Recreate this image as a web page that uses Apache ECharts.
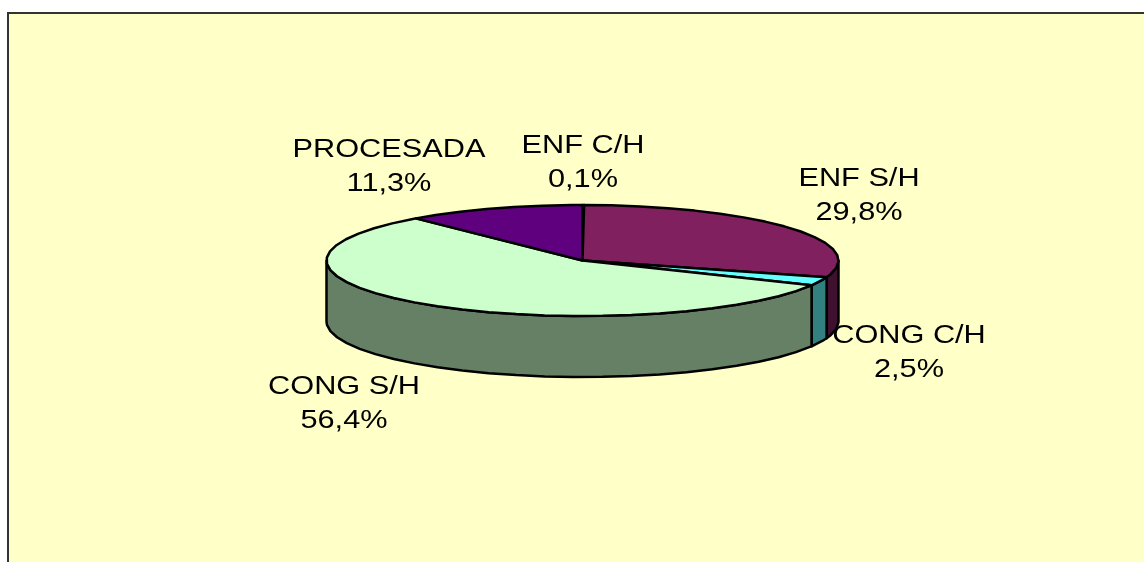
<!DOCTYPE html>
<html>
<head>
<meta charset="utf-8">
<style>
  html, body { margin: 0; padding: 0; background: #fff; }
  #chart { width: 1144px; height: 562px; }
</style>
<script src="https://cdn.jsdelivr.net/npm/echarts@6/dist/echarts.min.js"></script>
</head>
<body>
<div id="chart"></div>
<script>
// data, clockwise from 12 o'clock
const categories = ["ENF C/H", "ENF S/H", "CONG C/H", "CONG S/H", "PROCESADA"];
const values = [0.1, 29.8, 2.5, 56.4, 11.3];

// top face and side wall colours per slice
const topColors = ["#99ccff", "#80205f", "#66ffff", "#ccffcc", "#5f007f"];
const sideColors = ["#4d6680", "#401030", "#338080", "#668066", "#300040"];

// label centre per slice (layout, gap between the two lines is labelGap)
const labelCenters = [[583, 163], [859, 196], [909, 353], [344, 404], [389, 167]];
const labelGap = 34;
// the original text is drawn wider than the font
const labelScaleX = 1.28;
const labelScaleY = 1.06;

const pie = { cx: 582.5, cy: 260.5, rx: 256, ry: 55.5, depth: 61, step: 6.5 };
const total = values.reduce((a, b) => a + b, 0);

// cumulative start/end angle of every slice, degrees clockwise from the top
const angles = [];
let acc = 0;
values.forEach((v) => {
  const start = (acc / total) * 360;
  acc += v;
  angles.push([start, (acc / total) * 360]);
});

function rimPoint(deg, dy) {
  const a = (deg * Math.PI) / 180;
  return [pie.cx + pie.rx * Math.sin(a), pie.cy - pie.ry * Math.cos(a) + dy];
}

// rim is faceted like the original, so walk it in fixed steps
function rimPoints(from, to, dy) {
  const pts = [rimPoint(from, dy)];
  const first = Math.ceil(from / pie.step) * pie.step;
  for (let d = first; d < to; d += pie.step) {
    if (d > from) pts.push(rimPoint(d, dy));
  }
  pts.push(rimPoint(to, dy));
  return pts;
}

function renderSide(params) {
  const i = params.dataIndex;
  const from = Math.max(angles[i][0], 90);
  const to = Math.min(angles[i][1], 270);
  if (to <= from) return null;
  const upper = rimPoints(from, to, 0);
  const lower = rimPoints(from, to, pie.depth).reverse();
  return {
    type: "polygon",
    shape: { points: upper.concat(lower) },
    style: { fill: sideColors[i], stroke: "#000", lineWidth: 2.5, lineJoin: "round" },
  };
}

function renderTop(params) {
  const i = params.dataIndex;
  const pts = [[pie.cx, pie.cy]].concat(rimPoints(angles[i][0], angles[i][1], 0));
  return {
    type: "polygon",
    shape: { points: pts },
    style: { fill: topColors[i], stroke: "#000", lineWidth: 2.5, lineJoin: "round" },
  };
}

function labelLine(text, x, y) {
  return {
    type: "text",
    x: x,
    y: y,
    scaleX: labelScaleX,
    scaleY: labelScaleY,
    style: {
      text: text,
      fontFamily: "Liberation Sans",
      fontSize: 24,
      fill: "#000",
      align: "center",
      verticalAlign: "middle",
    },
  };
}

function renderLabel(params) {
  const i = params.dataIndex;
  const c = labelCenters[i];
  const pct = values[i].toFixed(1).replace(".", ",") + "%";
  return {
    type: "group",
    children: [
      labelLine(categories[i], c[0], c[1] - labelGap / 2),
      labelLine(pct, c[0], c[1] + labelGap / 2),
    ],
  };
}

const chart = echarts.init(document.getElementById("chart"), null, { renderer: "canvas" });
chart.setOption({
  animation: false,
  backgroundColor: "#ffffff",
  graphic: [
    {
      type: "rect",
      z: -1,
      shape: { x: 8, y: 13, width: 1160, height: 570 },
      style: { fill: "#ffffc8", stroke: "#333333", lineWidth: 2 },
    },
  ],
  series: [
    { type: "custom", coordinateSystem: "none", silent: true, z: 2, data: values, renderItem: renderSide },
    { type: "custom", coordinateSystem: "none", silent: true, z: 3, data: values, renderItem: renderTop },
    { type: "custom", coordinateSystem: "none", silent: true, z: 4, data: values, renderItem: renderLabel },
  ],
});
</script>
</body>
</html>
